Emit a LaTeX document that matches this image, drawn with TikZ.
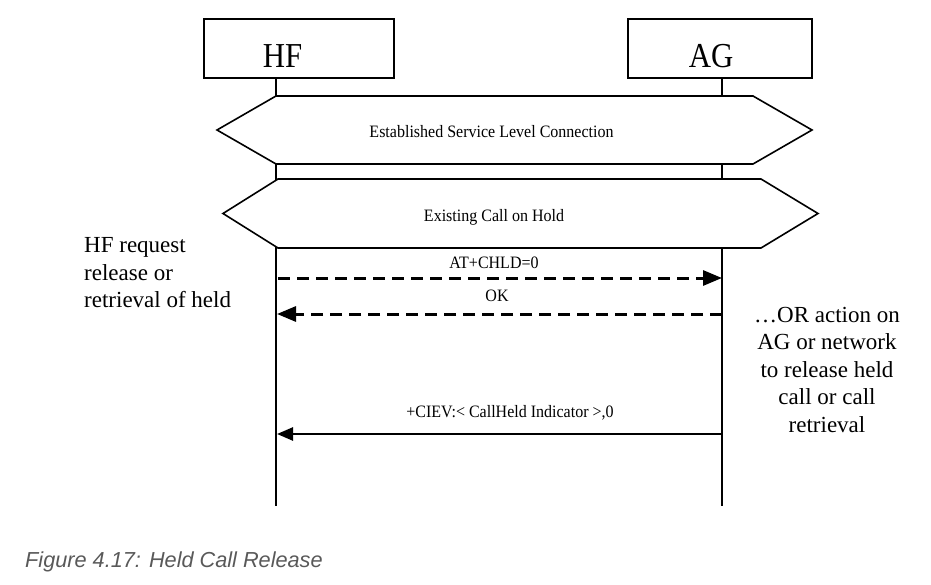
\documentclass[tikz,border=0pt]{standalone}
\usepackage{fontspec}
\setmainfont{Liberation Serif}
\newfontfamily\condfont[FakeStretch=0.92]{Liberation Serif}
\newfontfamily\entfont[FakeStretch=0.88]{Liberation Serif}
\newfontfamily\capfont{Liberation Sans}
\usetikzlibrary{arrows.meta}
\definecolor{capgray}{RGB}{89,89,89}
\begin{document}
\begin{tikzpicture}[x=1pt,y=-1pt,
  entbox/.style={draw,line width=1.1pt,inner sep=0pt},
  entlabel/.style={anchor=base,inner sep=0pt,font=\entfont\fontsize{35}{40}\selectfont},
  life/.style={line width=2pt},
  hexline/.style={line width=1.6pt,line join=miter},
  msglabel/.style={anchor=base,inner sep=0pt,font=\condfont\fontsize{17.4}{20}\selectfont},
  sidetext/.style={inner sep=0pt,font=\fontsize{23}{27.5}\selectfont},
  dashmsg/.style={line width=3pt,dash pattern=on 12pt off 7pt,-{Triangle[length=19pt,width=15pt]}},
  solidmsg/.style={line width=2.5pt,-{Triangle[length=16pt,width=13pt]}}]
\useasboundingbox (0,0) rectangle (931,585);

% entity boxes
\node[entbox,minimum width=190pt,minimum height=59pt] (hfbox) at (299,48.5) {};
\node[entlabel] (hflabel) at (282.5,68) {HF};
\node[entbox,minimum width=184pt,minimum height=59pt] (agbox) at (720,48.5) {};
\node[entlabel] (aglabel) at (711,68) {AG};

% lifelines
\coordinate (hftop) at (276,78);
\coordinate (hfbot) at (276,506);
\coordinate (agtop) at (722,78);
\coordinate (agbot) at (722,506);
\draw[life] (hftop) -- (hfbot);
\draw[life] (agtop) -- (agbot);

% hexagons
\draw[hexline,fill=white] (217,130) -- (276,96) -- (753,96) -- (812,130) -- (753,164) -- (276,164) -- cycle;
\node[msglabel] (slc) at (491.5,137.5) {Established Service Level Connection};
\draw[hexline,fill=white] (223,213.5) -- (278,179) -- (761,179) -- (818,213.5) -- (761,248) -- (278,248) -- cycle;
\node[msglabel] (hold) at (494,221.5) {Existing Call on Hold};

% messages
\coordinate (hf1) at (278,278);
\coordinate (ag1) at (722,278);
\coordinate (hf2) at (277,314);
\coordinate (ag2) at (722,314);
\coordinate (hf3) at (277,434);
\coordinate (ag3) at (722,434);
\draw[dashmsg] (hf1) -- (ag1);
\node[msglabel] (m1) at (494,269) {AT+CHLD=0};
\draw[dashmsg] (ag2) -- (hf2);
\node[msglabel] (m2) at (497,301) {OK};
\draw[solidmsg] (ag3) -- (hf3);
\node[msglabel] (m3) at (510,417) {+CIEV:< CallHeld Indicator >,0};

% side notes
\node[sidetext,anchor=base west] (hfnote) at (84,253)
  {\begin{tabular}[t]{@{}l@{}}HF request\\release or\\retrieval of held\end{tabular}};
\node[sidetext,anchor=base] (agnote) at (827,322)
  {\begin{tabular}[t]{@{}c@{}}…OR action on\\AG or network\\to release held\\call or call\\retrieval\end{tabular}};

% caption
\node[anchor=base west,inner sep=0pt,text=capgray,font=\capfont\itshape\fontsize{21.7}{26}\selectfont] (cap) at (25,567) {Figure 4.17: Held Call Release};
\end{tikzpicture}
\end{document}
